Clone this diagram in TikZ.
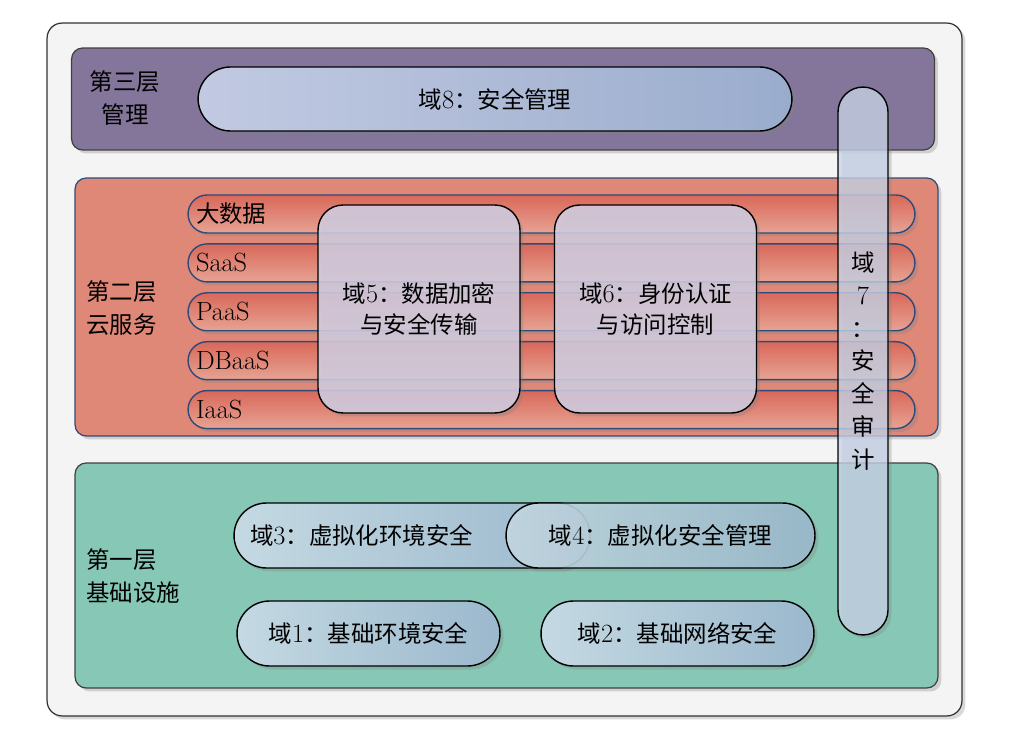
\documentclass[tikz,border=0pt]{standalone}
\usepackage{fontspec}
\newfontfamily\cjk[Scale=0.89]{Noto Sans CJK SC}
\usetikzlibrary{positioning, shadows}
\definecolor{frameFill}{HTML}{F4F4F4}
\definecolor{layerThreeFill}{HTML}{83769A}
\definecolor{layerTwoFill}{HTML}{E08878}
\definecolor{layerOneFill}{HTML}{86C8B5}
\definecolor{tikzDarkBlue}{HTML}{2E4A78}
\definecolor{rowTop}{HTML}{D9685A}
\definecolor{rowBottom}{HTML}{E6A393}
\definecolor{pillLeft}{HTML}{C2CAE2}
\definecolor{pillRight}{HTML}{9AACCD}
\definecolor{greenPillLeft}{HTML}{C4D9E2}
\definecolor{greenPillRight}{HTML}{9BB8CD}
\definecolor{boxFill}{HTML}{D2CEE2}
\definecolor{auditFill}{HTML}{C9D5EA}

\newcommand{\domlabel}[2]{{\cjk 域}#1{\cjk ：#2}}

\tikzset{
  every node/.style={font=\fontsize{15}{18}\selectfont},
  zh/.style={font=\fontsize{15}{19}\selectfont\cjk},
  softshadow/.style={drop shadow={shadow xshift=0.07cm, shadow yshift=-0.07cm, opacity=0.3}},
  layer/.style={draw=black!75, rounded corners=0.22cm, line width=0.7pt, minimum width=17.26cm, softshadow},
  row/.style={draw=tikzDarkBlue, line width=0.8pt, rounded corners=0.38cm, minimum width=14.54cm, minimum height=0.76cm,
    inner xsep=0.16cm, inner ysep=0pt, text width=14.22cm, align=left, top color=rowTop, bottom color=rowBottom, softshadow},
  pill/.style={draw=black, line width=0.8pt, rounded corners=0.65cm, minimum height=1.3cm, softshadow},
  greenpill/.style={pill, left color=greenPillLeft, right color=greenPillRight},
  crossbox/.style={draw=black, line width=0.8pt, rounded corners=0.5cm, minimum width=4.04cm, minimum height=4.16cm,
    fill=boxFill, fill opacity=0.85, text opacity=1, align=center, softshadow}
}

\begin{document}
\begin{tikzpicture}[x=0.02cm, y=-0.02cm]
\useasboundingbox (0,0) rectangle (1023,746);

\node (frame) [draw=black!80, fill=frameFill, rounded corners=0.3cm, line width=0.7pt, minimum width=18.3cm, minimum height=13.86cm, softshadow] at (504.5,369.5) {};

% layer three
\node (layerThree) [layer, fill=layerThreeFill, minimum height=2.04cm] at (503,99) {};
\node (layerThreeTitle) [zh, align=center] at (125,98) {第三层\\管理};
\node (domEight) [pill, minimum width=11.88cm, minimum height=1.28cm, left color=pillLeft, right color=pillRight] at (495,99) {\domlabel{8}{安全管理}};

% layer two
\node (layerTwo) [layer, fill=layerTwoFill, draw=tikzDarkBlue, minimum height=5.16cm] at (506.5,307) {};
\node (layerTwoTitle) [zh, align=left, anchor=west] at (80,308) {第二层\\云服务};

\node (rowBig) [row] at (551.5,214) {\cjk 大数据};
\node (rowSaaS) [row, below=0.19cm of rowBig] {SaaS};
\node (rowPaaS) [row, below=0.19cm of rowSaaS] {PaaS};
\node (rowDBaaS) [row, below=0.19cm of rowPaaS] {DBaaS};
\node (rowIaaS) [row, below=0.19cm of rowDBaaS] {IaaS};

\node (domFive) [crossbox] at (419,309) {\domlabel{5}{数据加密}\\{\cjk 与安全传输}};
\node (domSix) [crossbox] at (655.5,309) {\domlabel{6}{身份认证}\\{\cjk 与访问控制}};

% layer one
\node (layerOne) [layer, fill=layerOneFill, minimum height=4.5cm] at (506.5,575.5) {};
\node (layerOneTitle) [zh, align=left, anchor=west] at (80,576) {第一层\\基础设施};

\node (domThree) [greenpill, minimum width=7.12cm, inner xsep=0.32cm, text width=6.48cm, align=left] at (412,535.5) {\domlabel{3}{虚拟化环境安全}};
\node (domFour) [greenpill, minimum width=6.18cm, fill opacity=0.88, text opacity=1] at (660.5,535.5) {\domlabel{4}{虚拟化安全管理}};
\node (domOne) [greenpill, minimum width=5.26cm] at (368.5,633.5) {\domlabel{1}{基础环境安全}};
\node (domTwo) [greenpill, minimum width=5.46cm] at (677.5,633.5) {\domlabel{2}{基础网络安全}};

% audit across all layers
\node (domSeven) [draw=black, line width=0.8pt, rounded corners=0.5cm, minimum width=1cm, minimum height=10.96cm,
  fill=auditFill, fill opacity=0.75, text opacity=1, zh, font=\fontsize{15}{18.7}\selectfont\cjk, align=center, softshadow]
  at (863,361) {域\\{\rmfamily 7}\\：\\安\\全\\审\\计};

\end{tikzpicture}
\end{document}
